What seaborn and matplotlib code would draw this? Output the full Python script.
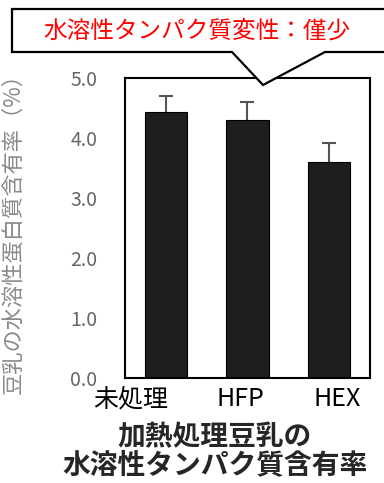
import seaborn as sns
import matplotlib.pyplot as plt
import matplotlib.transforms as mtransforms
from matplotlib.patches import Polygon
import pandas as pd

# データ
categories = ["未処理", "HFP", "HEX"]
values     = [4.43, 4.30, 3.60]
errors     = [0.27, 0.30, 0.32]

sns.set_style("white")
plt.rcParams['font.family'] = ['Noto Sans CJK JP', 'DejaVu Sans']

df = pd.DataFrame({"category": categories, "value": values})

W, H = 384, 483
fig = plt.figure(figsize=(W / 100, H / 100), dpi=100)
ax = fig.add_axes([125 / W, 1 - 378 / H, 245 / W, 300 / H])

sns.barplot(data=df, x="category", y="value", ax=ax, color="#1e1e1e",
            saturation=1, width=0.52, edgecolor="black", linewidth=0.8,
            zorder=2)
# エラーバーは棒の後ろに（上側だけ見える）
ax.errorbar(range(len(categories)), values, yerr=errors, fmt="none",
            ecolor="#555555", elinewidth=1.5, capsize=5, capthick=1.5,
            zorder=1)

ax.set_xlim(-0.5, 2.5)
ax.set_ylim(0, 5)
ax.set_yticks([0, 1, 2, 3, 4, 5])
ax.set_yticklabels([f"{v:.1f}" for v in range(6)])
ax.tick_params(axis="y", length=0, pad=20, labelsize=14, labelcolor="#666666")
ax.tick_params(axis="x", length=0, pad=6, labelsize=18, labelcolor="black")
for s in ax.spines.values():
    s.set_visible(True)
    s.set_color("black")
    s.set_linewidth(1.5)
    s.set_zorder(3)

# x ラベルの位置調整
shifts = [-35, -7, 8]
for lab, dx in zip(ax.get_xticklabels(), shifts):
    lab.set_transform(lab.get_transform() +
                      mtransforms.ScaledTranslation(dx / 100, 0, fig.dpi_scale_trans))

ax.set_xlabel("")
ax.set_ylabel("豆乳の水溶性蛋白質含有率（%）", fontsize=16, color="#8a8a8a")
ax.yaxis.set_label_coords(-0.41, 0.5)

# 吹き出し
pts = [(12, 9), (395, 9), (395, 52), (325, 52), (263, 85), (232, 52), (12, 52)]
callout = Polygon([(x / W, 1 - y / H) for x, y in pts], closed=True,
                  transform=fig.transFigure, facecolor="white",
                  edgecolor="black", linewidth=1.6, zorder=5, clip_on=False)
fig.patches.append(callout)
fig.text(197 / W, 1 - 31 / H, "水溶性タンパク質変性：僅少", color="red",
         fontsize=17, ha="center", va="center", zorder=6)

fig.text(215 / W, 1 - 437 / H, "加熱処理豆乳の", fontsize=20,
         fontweight="bold", ha="center", va="center")
fig.text(215 / W, 1 - 465 / H, "水溶性タンパク質含有率", fontsize=20,
         fontweight="bold", ha="center", va="center")

fig.savefig("out.png", dpi=100)
